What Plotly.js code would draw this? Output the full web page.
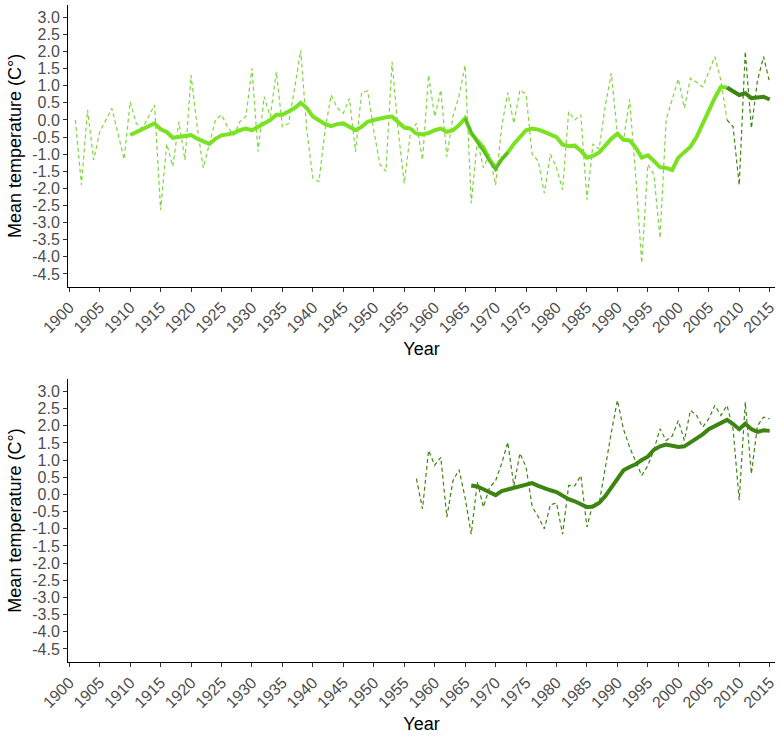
<!DOCTYPE html>
<html>
<head>
<meta charset="utf-8">
<script src="https://cdn.plot.ly/plotly-3.0.1.min.js"></script>
<style>
  html, body { margin: 0; padding: 0; background: #ffffff; }
  #chart { width: 781px; height: 737px; }
</style>
</head>
<body>
<div id="chart"></div>
<script>
// ---------- DATA ----------
// Top panel: annual mean temperature anomaly (dashed), station 1
const topAnnualStart = 1901;
const topAnnual = [
  0.0, -1.9, 0.3, -1.17, -0.35, 0.0, 0.34, -0.4, -1.15, 0.53,
  -0.1, -0.25, 0.1, 0.44, -2.63, -0.7, -1.36, -0.05, -1.17, 1.31,
  -0.2, -1.4, -0.7, 0.0, 0.15, -0.2, -0.45, -0.05, 0.1, 1.51,
  -0.92, 0.68, 0.1, 1.41, -0.2, -0.1, 0.92, 2.04, -0.3, -1.7,
  -1.8, -0.3, 0.73, 0.35, 0.2, 0.63, -0.93, 0.8, 0.85, -0.3,
  -1.3, -1.5, 1.7, -0.3, -1.85, -0.4, -0.1, -1.17, 1.31, 0.1,
  0.88, -1.07, 0.1, 0.7, 1.6, -2.43, -0.6, -1.4, -1.0, -1.9,
  -0.2, 0.8, -0.1, 0.88, 0.75, -1.0, -1.2, -2.14, -1.0, -1.4,
  -2.04, 0.24, 0.0, 0.15, -2.33, -0.7, -0.85, 0.4, 1.37, -0.4,
  -0.6, 0.6, -1.6, -4.18, -1.3, -1.6, -3.45, 0.0, 0.6, 1.2,
  0.35, 1.22, 1.1, 0.97, 1.4, 1.85, 1.15, 0.0
];
// Top panel: annual values, recent station (dark)
const topAnnualDarkStart = 2008;
const topAnnualDark = [0.0, -0.2, -1.9, 2.0, -0.24, 1.15, 1.85, 1.1];

// Top panel: moving average (solid), station 1
const topMAStart = 1910;
const topMA = [
  -0.44, -0.35, -0.27, -0.2, -0.1, -0.27, -0.35, -0.52, -0.5, -0.47,
  -0.44, -0.55, -0.62, -0.7, -0.55, -0.45, -0.42, -0.38, -0.3, -0.25,
  -0.3, -0.2, -0.1, 0.0, 0.15, 0.15, 0.25, 0.35, 0.5, 0.35,
  0.1, 0.0, -0.12, -0.18, -0.12, -0.1, -0.2, -0.3, -0.2, -0.05,
  0.0, 0.05, 0.08, 0.1, -0.05, -0.22, -0.25, -0.4, -0.42, -0.38,
  -0.3, -0.25, -0.35, -0.3, -0.15, 0.05, -0.4, -0.6, -0.8, -1.15,
  -1.4, -1.15, -0.95, -0.7, -0.5, -0.3, -0.25, -0.28, -0.35, -0.42,
  -0.5, -0.72, -0.76, -0.75, -0.9, -1.1, -1.05, -0.95, -0.75, -0.55,
  -0.4, -0.58, -0.6, -0.8, -1.1, -1.03, -1.2, -1.38, -1.4, -1.46,
  -1.1, -0.95, -0.78, -0.5, -0.1, 0.3, 0.65, 0.97, 0.95
];
// Top panel: moving average, second station (mid green)
const topMAMidStart = 1965;
const topMAMid = [0.05, -0.35, -0.65, -0.9, -1.2, -1.45, -1.15, -0.95];
// Top panel: moving average, recent station (dark)
const topMADarkStart = 2008;
const topMADark = [0.95, 0.85, 0.73, 0.78, 0.64, 0.66, 0.68, 0.6];

// Bottom panel: annual values (dashed)
const botAnnualStart = 1957;
const botAnnual = [
  0.46, -0.42, 1.28, 0.85, 1.08, -0.66, 0.4, 0.72, -0.1, -1.16,
  0.36, -0.37, 0.2, 0.4, 0.9, 1.52, 0.25, 1.2, 0.8, -0.35,
  -0.65, -1.0, -0.3, -0.25, -1.16, 0.26, 0.25, 0.55, -0.95, -0.25,
  -0.27, 0.8, 1.8, 2.74, 1.9, 1.38, 0.94, 0.55, 0.84, 1.3,
  1.91, 1.57, 1.7, 2.15, 1.57, 2.45, 2.3, 1.96, 2.2, 2.59,
  2.3, 2.59, 1.9, -0.17, 2.69, 0.6, 2.0, 2.25, 2.2
];
// Bottom panel: moving average (solid)
const botMAStart = 1966;
const botMA = [
  0.26, 0.23, 0.15, 0.08, -0.02, 0.1, 0.15, 0.2, 0.25, 0.3,
  0.33, 0.25, 0.17, 0.12, 0.07, -0.05, -0.14, -0.2, -0.3, -0.37,
  -0.35, -0.25, -0.05, 0.2, 0.5, 0.7, 0.8, 0.88, 1.0, 1.1,
  1.3, 1.4, 1.45, 1.42, 1.38, 1.4, 1.52, 1.62, 1.75, 1.9,
  2.0, 2.1, 2.17, 2.05, 1.9, 2.06, 1.9, 1.82, 1.87, 1.85
];

// Axis ticks
const xTickYears = [1900,1905,1910,1915,1920,1925,1930,1935,1940,1945,1950,1955,1960,1965,1970,1975,1980,1985,1990,1995,2000,2005,2010,2015];
const yTickVals = [3.0,2.5,2.0,1.5,1.0,0.5,0.0,-0.5,-1.0,-1.5,-2.0,-2.5,-3.0,-3.5,-4.0,-4.5];
const yTickText = ["3.0","2.5","2.0","1.5","1.0","0.5","0.0","-0.5","-1.0","-1.5","-2.0","-2.5","-3.0","-3.5","-4.0","-4.5"];

// ---------- BUILD ----------
const yrs = (start, arr) => arr.map((_, i) => start + i);

const LIGHT = 'rgb(122,226,32)';
const LIGHT_D = 'rgb(128,214,62)';
const MID = 'rgb(92,188,36)';
const DARK = 'rgb(62,132,18)';

function dashed(start, vals, color, xa, ya) {
  return { type: 'scatter', mode: 'lines', x: yrs(start, vals), y: vals, xaxis: xa, yaxis: ya,
    line: { color: color, width: 1.2, dash: '4px,3px' }, hoverinfo: 'skip', showlegend: false };
}
function solid(start, vals, color, w, xa, ya) {
  return { type: 'scatter', mode: 'lines', x: yrs(start, vals), y: vals, xaxis: xa, yaxis: ya,
    line: { color: color, width: w }, hoverinfo: 'skip', showlegend: false };
}

const data = [
  dashed(topAnnualStart, topAnnual, LIGHT_D, 'x', 'y'),
  dashed(topAnnualDarkStart, topAnnualDark, DARK, 'x', 'y'),
  solid(topMAStart, topMA, LIGHT, 4, 'x', 'y'),
  solid(topMAMidStart, topMAMid, MID, 3, 'x', 'y'),
  solid(topMADarkStart, topMADark, DARK, 4, 'x', 'y'),
  dashed(botAnnualStart, botAnnual, DARK, 'x2', 'y2'),
  solid(botMAStart, botMA, DARK, 4, 'x2', 'y2')
];

const xRange = [1899.79, 2015.88];
const yRange = [-4.88, 3.36];
const FONT = 'Liberation Sans, Arial, sans-serif';

function xAxis(anchor) {
  return {
    anchor: anchor, range: xRange, domain: [0, 1],
    tickmode: 'array', tickvals: xTickYears, ticktext: xTickYears.map(String),
    tickangle: -45, ticks: 'outside', ticklen: 4, tickwidth: 1, tickcolor: '#333333',
    showline: true, linecolor: '#000000', linewidth: 1,
    showgrid: false, zeroline: false, automargin: false,
    tickfont: { family: FONT, size: 16, color: '#4d4d4d' },
    title: { text: 'Year', standoff: 7, font: { family: FONT, size: 18, color: '#000000' } }
  };
}
function yAxis(anchor, domain) {
  return {
    anchor: anchor, range: yRange, domain: domain,
    tickmode: 'array', tickvals: yTickVals, ticktext: yTickText,
    ticks: 'outside', ticklen: 4, tickwidth: 1, tickcolor: '#333333',
    showline: true, linecolor: '#000000', linewidth: 1,
    showgrid: false, zeroline: false, automargin: false,
    tickfont: { family: FONT, size: 16, color: '#4d4d4d' },
    title: { text: 'Mean temperature (C°)', standoff: 5, font: { family: FONT, size: 18, color: '#000000' } }
  };
}

const layout = {
  width: 781, height: 737,
  margin: { l: 68, r: 6, t: 5, b: 75 },
  paper_bgcolor: '#ffffff', plot_bgcolor: '#ffffff',
  showlegend: false,
  xaxis: xAxis('y'),
  yaxis: yAxis('x', [0.5708, 1.0]),
  xaxis2: xAxis('y2'),
  yaxis2: yAxis('x2', [0.0, 0.4307])
};

Plotly.newPlot('chart', data, layout, { displayModeBar: false, staticPlot: true });
</script>
</body>
</html>
